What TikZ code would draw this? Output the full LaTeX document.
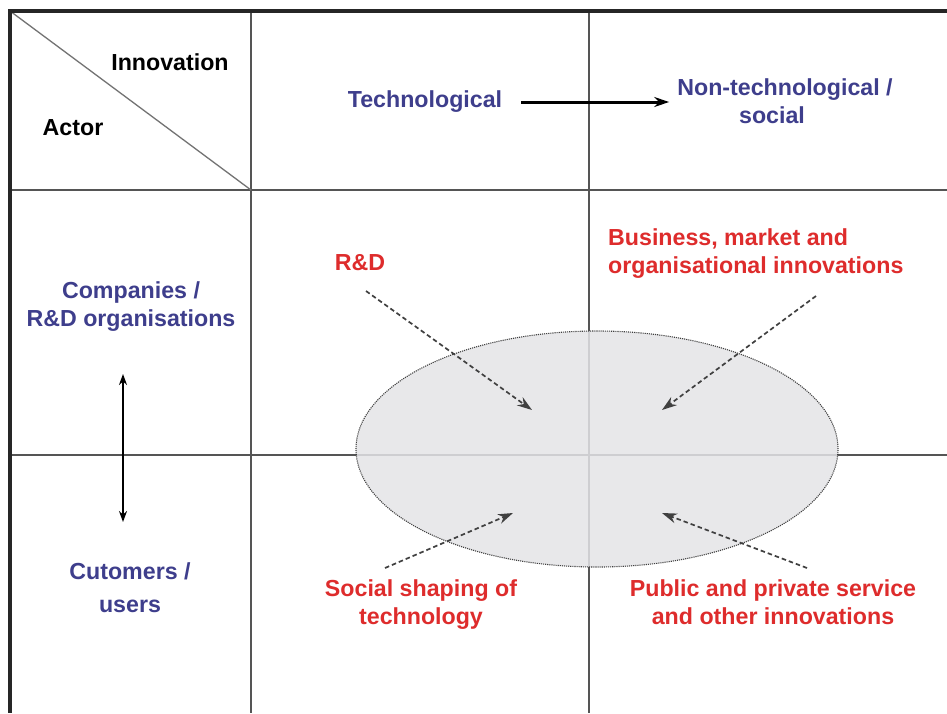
\documentclass[tikz,border=0pt]{standalone}
\usepackage{fontspec}
\setmainfont{Liberation Sans}
\usetikzlibrary{shapes.geometric,arrows.meta}
\definecolor{ablue}{RGB}{62,62,140}
\definecolor{ared}{RGB}{222,44,44}
\definecolor{gridc}{RGB}{85,85,85}
\definecolor{ellfill}{RGB}{228,228,231}
\begin{document}
\begin{tikzpicture}[x=1pt,y=-1pt,
  lbl/.style={inner sep=0pt,font=\fontsize{23.2}{28}\selectfont\bfseries,align=center},
  bluelbl/.style={lbl,text=ablue},
  redlbl/.style={lbl,text=ared},
  gridline/.style={line width=1.4pt,draw=gridc},
  border/.style={line width=3.2pt,draw=black!85},
  solidarrow/.style={line width=3pt,-{Stealth[length=15pt,width=10pt]}},
  dasharrow/.style={line width=1.7pt,draw=black!75,dash pattern=on 4.5pt off 3pt,-{Stealth[length=15pt,width=10pt]}},
  coreell/.style={ellipse,minimum width=482pt,minimum height=236pt,fill=ellfill,fill opacity=0.85,draw=black!75,densely dotted,line width=1.1pt}
]
\useasboundingbox[fill=white] (0,0) rectangle (947,713);
% grid
\draw[gridline] (251,11) -- (251,713);
\draw[gridline] (589,11) -- (589,713);
\draw[gridline] (10,190) -- (947,190);
\draw[gridline] (10,455) -- (947,455);
\draw[line width=1.3pt,draw=black!55] (10,11) -- (251,190);
% core ellipse
\node[coreell] (core) at (597,449) {};
% border
\draw[border] (947,11) -- (10,11) -- (10,713);
% header texts
\node[lbl] (innov) at (170,62) {Innovation};
\node[lbl] (actor) at (73,128) {Actor};
\node[bluelbl] (tech) at (425,102) {Technological};
\node[bluelbl] (nontech) at (785,101) {Non-technological /\\social\hspace*{26pt}};
\draw[solidarrow, shorten <=19pt, shorten >=8pt] (tech.east) -- (tech.east -| nontech.west);
% actor texts
\node[bluelbl] (comp) at (131,307) {Companies /\\R\&D organisations};
\node[bluelbl] (cust) at (130,588) {Cutomers /\\[5pt]users};
\coordinate (va) at (123,374);
\coordinate (vb) at (123,522);
\draw[line width=2.5pt,{Stealth[length=11pt,width=8pt]}-{Stealth[length=11pt,width=8pt]}] (va) -- (vb);
% red labels
\node[redlbl] (rd) at (360,263) {R\&D};
\node[redlbl,align=left,anchor=west] (bus) at (608,254) {Business, market and\\organisational innovations};
\node[redlbl] (soc) at (421,605) {Social shaping of\\technology};
\node[redlbl] (pub) at (773,602) {Public and private service\\and other innovations};
% dashed arrows
\coordinate (rdT) at (366,291);
\coordinate (rdH) at (532,410);
\coordinate (busT) at (816,296);
\coordinate (busH) at (662,410);
\coordinate (socT) at (385,568);
\coordinate (socH) at (513,513);
\coordinate (pubT) at (807,568);
\coordinate (pubH) at (662,513);
\draw[dasharrow] (rdT) -- (rdH);
\draw[dasharrow] (busT) -- (busH);
\draw[dasharrow] (socT) -- (socH);
\draw[dasharrow] (pubT) -- (pubH);
\end{tikzpicture}
\end{document}
